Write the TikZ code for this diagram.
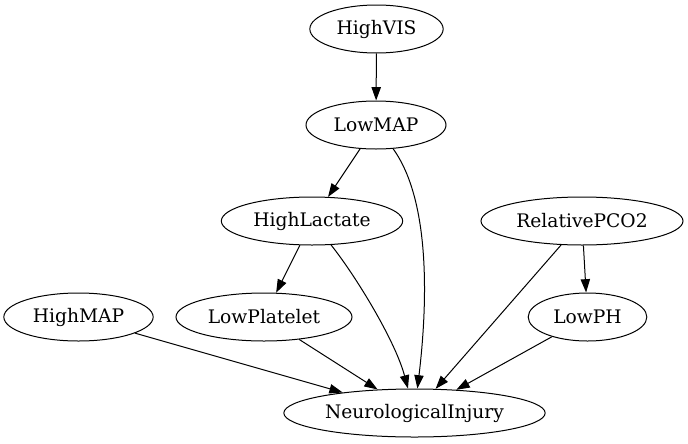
\documentclass[tikz,border=0pt]{standalone}
\usepackage{fontspec}
\setmainfont{DejaVu Serif}
\usetikzlibrary{shapes.geometric, arrows.meta}

\begin{document}
\begin{tikzpicture}[x=0.75pt, y=-0.75pt, line width=0.75pt,
  var/.style={draw, ellipse, inner sep=0pt, minimum height=36pt, font=\fontsize{14}{16}\selectfont},
  link/.style={-{Triangle[length=10pt, width=7pt]}}]

  \useasboundingbox (0, 0) rectangle (688, 443);

  % -- Top chain --
  \node[var, minimum width=100pt] (highvis) at (376.5, 29) {HighVIS};
  \node[var, minimum width=105pt] (lowmap) at (376, 125) {LowMAP};
  \node[var, minimum width=136pt] (highlactate) at (312, 221) {HighLactate};
  \node[var, minimum width=151.5pt] (relpco2) at (582, 221) {RelativePCO2};

  % -- Third rank --
  \node[var, minimum width=112pt] (highmap) at (78.5, 317) {HighMAP};
  \node[var, minimum width=132pt] (lowplatelet) at (264, 317) {LowPlatelet};
  \node[var, minimum width=89pt] (lowph) at (587.5, 317) {LowPH};

  % -- Outcome --
  \node[var, minimum width=196pt] (neuro) at (414.5, 413) {NeurologicalInjury};

  % Straight edges
  \draw[link] (highvis) -- (lowmap);
  \draw[link] (lowmap) -- (highlactate);
  \draw[link] (highlactate) -- (lowplatelet);
  \draw[link] (relpco2) -- (lowph);
  \draw[link] (relpco2) -- (neuro);
  \draw[link] (highmap) -- (neuro);
  \draw[link] (lowplatelet) -- (neuro);
  \draw[link] (lowph) -- (neuro);

  % Curved edges into the outcome
  \draw[link] (lowmap) .. controls (430, 200) and (428, 300) .. (neuro);
  \draw[link] (highlactate) .. controls (355, 275) and (395, 340) .. (neuro);

\end{tikzpicture}
\end{document}
